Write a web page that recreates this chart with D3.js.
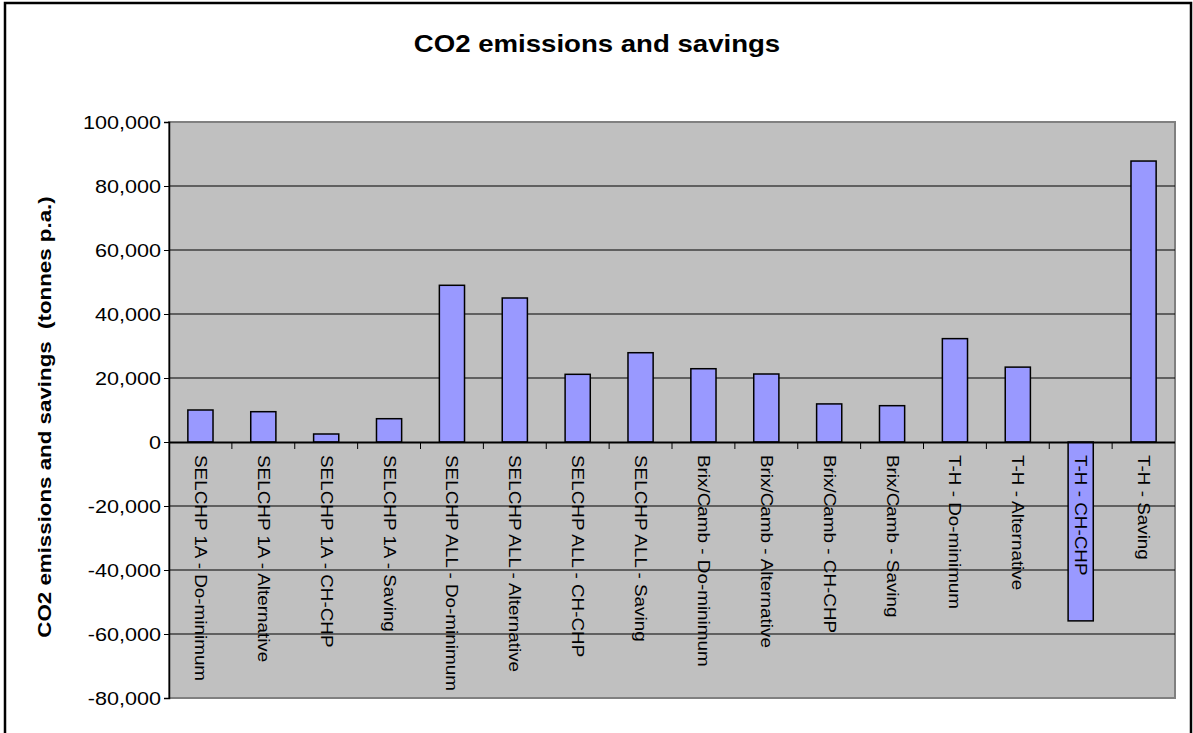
<!DOCTYPE html>
<html>
<head>
<meta charset="utf-8">
<script src="https://cdn.jsdelivr.net/npm/d3@7/dist/d3.min.js"></script>
<style>
  body { margin: 0; background: #fff; }
  text { font-family: Arial, "Liberation Sans", sans-serif; white-space: pre; }
</style>
</head>
<body>
<svg id="chart" width="1193" height="733"></svg>
<script>
// data
var categories = [
  "SELCHP 1A - Do-minimum", "SELCHP 1A - Alternative", "SELCHP 1A - CH-CHP", "SELCHP 1A - Saving",
  "SELCHP ALL - Do-minimum", "SELCHP ALL - Alternative", "SELCHP ALL - CH-CHP", "SELCHP ALL - Saving",
  "Brix/Camb - Do-minimum", "Brix/Camb - Alternative", "Brix/Camb - CH-CHP", "Brix/Camb - Saving",
  "T-H - Do-minimum", "T-H - Alternative", "T-H - CH-CHP", "T-H - Saving"
];
var values = [10000, 9470, 2500, 7280, 48970, 45000, 21150, 27900,
              22900, 21250, 11900, 11350, 32300, 23400, -55900, 87800];
var yTicks = [-80000, -60000, -40000, -20000, 0, 20000, 40000, 60000, 80000, 100000];
var chartTitle = "CO2 emissions and savings";
var yTitle = "CO2 emissions and savings  (tonnes p.a.)";

var svg = d3.select("#chart");
var plotLeft = 169, plotRight = 1175, plotTop = 122, plotBottom = 698;
var stretch = 1.2; // text in the reference is drawn a bit wide

// outer frame
svg.append("rect")
  .attr("x", 5).attr("y", 3)
  .attr("width", 1186).attr("height", 760)
  .attr("fill", "none")
  .attr("stroke", "#000")
  .attr("stroke-width", 2.5);

var x = d3.scaleBand()
  .domain(categories)
  .range([plotLeft, plotRight])
  .paddingInner(0.6)
  .paddingOuter(0.3);

var y = d3.scaleLinear()
  .domain([-80000, 100000])
  .range([plotBottom, plotTop]);

// plain hyphen for negatives, like the original
var fmt = d3.formatLocale({decimal: ".", thousands: ",", grouping: [3], currency: ["", ""], minus: "-"}).format(",");

// plot area
svg.append("rect")
  .attr("x", plotLeft).attr("y", plotTop)
  .attr("width", plotRight - plotLeft).attr("height", plotBottom - plotTop)
  .attr("fill", "#c0c0c0")
  .attr("stroke", "#808080")
  .attr("stroke-width", 2);

// gridlines
svg.append("g").selectAll("line")
  .data(yTicks.filter(function(d) { return d !== 0 && d !== 100000 && d !== -80000; }))
  .enter().append("line")
  .attr("x1", plotLeft).attr("x2", plotRight)
  .attr("y1", function(d) { return y(d); })
  .attr("y2", function(d) { return y(d); })
  .attr("stroke", "#000")
  .attr("stroke-width", 1);

// bars
svg.append("g").selectAll("rect")
  .data(values)
  .enter().append("rect")
  .attr("x", function(d, i) { return x(categories[i]); })
  .attr("width", x.bandwidth())
  .attr("y", function(d) { return y(Math.max(0, d)); })
  .attr("height", function(d) { return Math.abs(y(d) - y(0)); })
  .attr("fill", "#9999ff")
  .attr("stroke", "#000")
  .attr("stroke-width", 1.5);

// zero axis line and category ticks
var step = (plotRight - plotLeft) / categories.length;
svg.append("line")
  .attr("x1", plotLeft).attr("x2", plotRight)
  .attr("y1", y(0) + 0.5).attr("y2", y(0) + 0.5)
  .attr("stroke", "#000")
  .attr("stroke-width", 2);

svg.append("g").selectAll("line")
  .data(d3.range(1, categories.length))
  .enter().append("line")
  .attr("x1", function(d) { return plotLeft + d * step; })
  .attr("x2", function(d) { return plotLeft + d * step; })
  .attr("y1", y(0)).attr("y2", y(0) + 7)
  .attr("stroke", "#000")
  .attr("stroke-width", 1);

// y axis
var yAxis = svg.append("g")
  .attr("transform", "translate(" + plotLeft + ",0)")
  .call(d3.axisLeft(y).tickValues(yTicks).tickSize(5).tickPadding(3)
    .tickFormat(fmt));
yAxis.select(".domain").attr("stroke", "#000").attr("stroke-width", 1.5);
yAxis.selectAll(".tick line").attr("stroke", "#000");
yAxis.selectAll(".tick text")
  .attr("font-size", 18)
  .attr("fill", "#000")
  .attr("dy", "0.36em")
  .attr("transform", function() {
    var tx = +d3.select(this).attr("x");
    return "translate(" + tx + ",0) scale(" + stretch + ",1) translate(" + (-tx) + ",0)";
  });

// category labels, rotated to read downward
svg.append("g").selectAll("text")
  .data(categories)
  .enter().append("text")
  .attr("transform", function(d) {
    return "translate(" + (x(d) + x.bandwidth() / 2) + "," + (y(0) + 13) + ") rotate(90) scale(1.18,1)";
  })
  .attr("dominant-baseline", "central")
  .attr("font-size", 16)
  .attr("fill", "#000")
  .text(function(d) { return d; });

// title
svg.append("text")
  .attr("transform", "translate(597,52) scale(" + stretch + ",1)")
  .attr("text-anchor", "middle")
  .attr("font-size", 23)
  .attr("font-weight", "bold")
  .text(chartTitle);

// y axis title
svg.append("text")
  .attr("transform", "translate(51,417) rotate(-90) scale(1.24,1)")
  .attr("text-anchor", "middle")
  .attr("font-size", 18)
  .attr("font-weight", "bold")
  .text(yTitle);
</script>
</body>
</html>
